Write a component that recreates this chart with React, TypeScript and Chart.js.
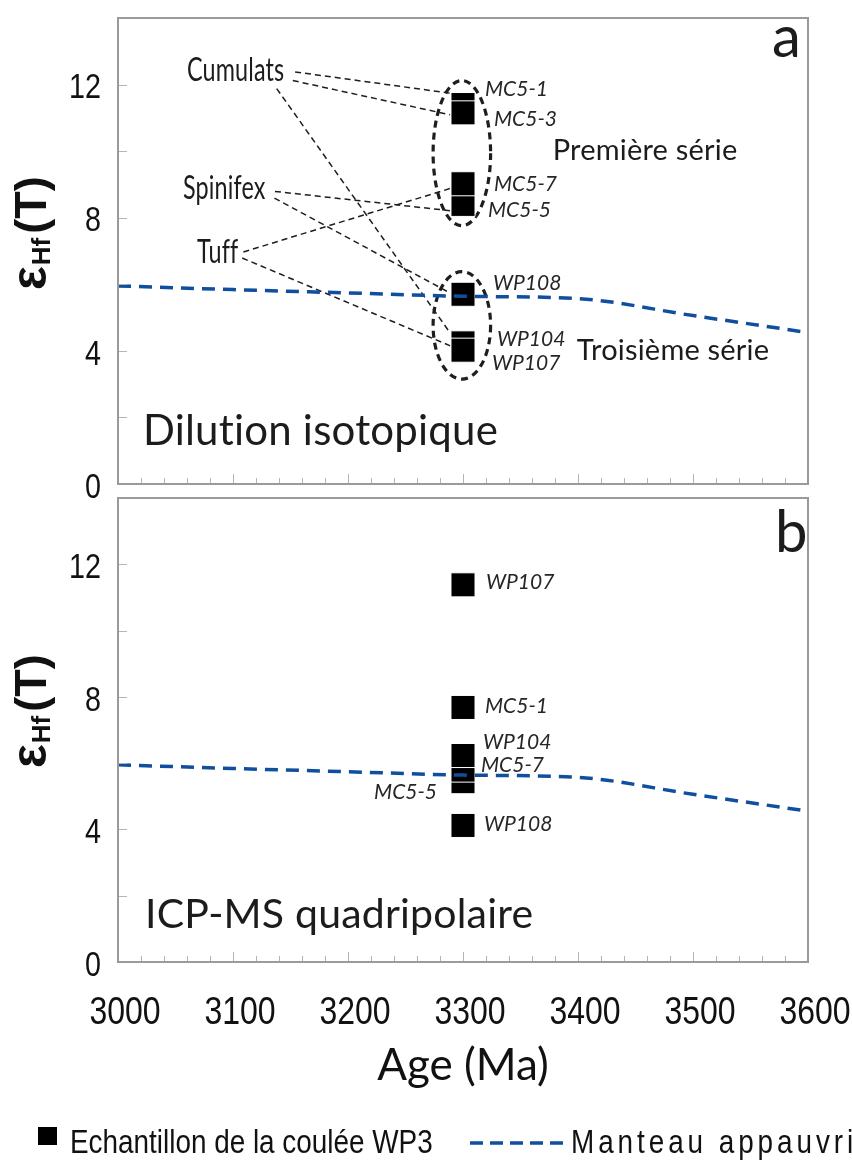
import React, { useEffect, useRef } from 'react';
import { Chart, registerables } from 'chart.js';

Chart.register(...registerables);

// ---------------- data ----------------
const ageMin = 3000;
const ageMax = 3600;
const ageTickLabels = [3000, 3100, 3200, 3300, 3400, 3500, 3600];
const epsMin = 0;
const epsMax = 14;
const epsTickLabels = [0, 4, 8, 12];

// depleted mantle evolution
const mantleAges = [3000, 3100, 3200, 3300, 3400, 3500, 3600];
const mantleEps = [5.95, 5.84, 5.74, 5.64, 5.57, 5.06, 4.55];

// WP3 flow samples (all at 3300 Ma), listed in drawing order
const sampleAge = 3300;
const samplesA = ['MC5-1', 'MC5-3', 'MC5-5', 'MC5-7', 'WP108', 'WP104', 'WP107'];
const epsA = [11.4, 11.15, 8.4, 9.02, 5.7, 4.24, 4.02];
const samplesB = ['WP107', 'MC5-1', 'MC5-5', 'MC5-7', 'WP104', 'WP108'];
const epsB = [11.38, 7.68, 5.44, 5.79, 6.23, 4.12];

// rock-type annotations of panel a
const rockTypes = ['Cumulats', 'Spinifex', 'Tuff'];
const rockAnchors = [
  [3060, 12.12],
  [3056.5, 8.56],
  [3068.7, 6.65],
];
// leader lines [age0, eps0, age1, eps1]
const leadersA = [
  [3154, 12.38, 3289, 11.74],
  [3152, 12.12, 3289, 11.09],
  [3138, 11.88, 3289, 4.53],
  [3136.5, 8.79, 3289, 8.21],
  [3136, 8.59, 3286, 5.79],
  [3109, 6.97, 3289, 8.88],
  [3108, 6.79, 3289, 4.15],
];
const seriesNames = ['Première série', 'Troisième série'];
const seriesAnchors = [
  [3378, 9.74],
  [3399, 3.74],
];
// ellipses [ageLeft, ageRight, epsLow, epsHigh]
const ellipsesA = [
  [3274, 3324, 7.76, 12.12],
  [3274, 3324, 3.15, 6.38],
];

// ---------------- styles ----------------
const BLUE = '#0f4f9e';
const INK = '#1c1c1c';
const FRAME = '#9a9a9a';
const HUMAN = "Lato, 'Noto Sans', sans-serif";
const ARIAL = "'Liberation Sans', Arial, sans-serif";
const NARROW_SX = 0.82;

// label offsets in px relative to the square centre: [dx, dy, align]
const labelOffsetsA: Record<string, [number, number, string]> = {
  'MC5-1': [22, -15, 'left'],
  'MC5-3': [31, 6, 'left'],
  'MC5-5': [25, 6, 'left'],
  'MC5-7': [31, 0, 'left'],
  WP108: [30, -11, 'left'],
  WP104: [34, -4, 'left'],
  WP107: [29, 13, 'left'],
};
const labelOffsetsB: Record<string, [number, number, string]> = {
  WP107: [23, -3, 'left'],
  'MC5-1': [22, -1, 'left'],
  'MC5-5': [-26, 11, 'right'],
  'MC5-7': [18, -5, 'left'],
  WP104: [20, -13, 'left'],
  WP108: [21, -1, 'left'],
};

function txt(ctx: CanvasRenderingContext2D, s: string, x: number, y: number, font: string, opts: any = {}) {
  ctx.save();
  ctx.font = font;
  ctx.fillStyle = opts.color || INK;
  ctx.textAlign = opts.align || 'left';
  ctx.textBaseline = opts.baseline || 'alphabetic';
  (ctx as any).letterSpacing = opts.spacing || '0px';
  ctx.translate(x, y);
  if (opts.sx) ctx.scale(opts.sx, 1);
  ctx.fillText(s, 0, 0);
  ctx.restore();
}

function drawFrame(chart: any, isTop: boolean) {
  const { ctx, chartArea: a, scales } = chart;
  const xs = scales.x;
  const ys = scales.y;
  ctx.save();
  ctx.strokeStyle = '#b4b4b4';
  ctx.lineWidth = 1;
  for (let v = ageMin + 20; v < ageMax; v += 20) {
    const px = Math.round(xs.getPixelForValue(v)) + 0.5;
    const len = v % 100 === 0 ? 10 : 6;
    ctx.beginPath();
    ctx.moveTo(px, a.bottom);
    ctx.lineTo(px, a.bottom - len);
    ctx.stroke();
  }
  for (let v = epsMin + 2; v < epsMax; v += 2) {
    const py = Math.round(ys.getPixelForValue(v)) + 0.5;
    ctx.beginPath();
    ctx.moveTo(a.left, py);
    ctx.lineTo(a.left + 9, py);
    ctx.stroke();
  }
  ctx.strokeStyle = FRAME;
  ctx.lineWidth = 2;
  ctx.strokeRect(a.left, a.top, a.right - a.left, a.bottom - a.top);
  ctx.restore();

  // tick labels, placed through the library scales (narrow face)
  ys.ticks.forEach((t: any) => {
    txt(ctx, String(t.value), a.left - 17, ys.getPixelForValue(t.value) + 4, `400 35px ${ARIAL}`, {
      align: 'right',
      baseline: 'middle',
      sx: NARROW_SX,
      color: '#111',
    });
  });
  if (!isTop) {
    xs.ticks.forEach((t: any) => {
      txt(ctx, String(t.value), xs.getPixelForValue(t.value) + 7, a.bottom + 51, `400 39px ${ARIAL}`, {
        align: 'center',
        baseline: 'middle',
        sx: NARROW_SX,
        color: '#111',
      });
    });
  }
}

function drawYTitle(ctx: CanvasRenderingContext2D, a: any) {
  ctx.save();
  ctx.translate(46, a.bottom - 194);
  ctx.rotate(-Math.PI / 2);
  ctx.fillStyle = '#111';
  ctx.textBaseline = 'alphabetic';
  ctx.textAlign = 'left';
  ctx.font = `700 50px ${ARIAL}`;
  ctx.fillText('ε', 0, 0);
  let x = ctx.measureText('ε').width + 1;
  ctx.font = `700 26px ${ARIAL}`;
  ctx.fillText('Hf', x, 4);
  x += ctx.measureText('Hf').width + 4;
  ctx.font = `700 45px ${ARIAL}`;
  ctx.fillText('(T)', x, 0);
  ctx.restore();
}

function makeConfig(panel: 'a' | 'b'): any {
  const isTop = panel === 'a';
  const names = isTop ? samplesA : samplesB;
  const vals = isTop ? epsA : epsB;
  const offsets = isTop ? labelOffsetsA : labelOffsetsB;

  const decor = {
    id: 'decor' + panel,
    beforeDatasetsDraw(chart: any) {
      if (!isTop) return;
      const { ctx, scales } = chart;
      const xs = scales.x;
      const ys = scales.y;
      ctx.save();
      ctx.strokeStyle = '#1e1e1e';
      ctx.lineWidth = 1.5;
      ctx.setLineDash([6, 4]);
      leadersA.forEach((l) => {
        ctx.beginPath();
        ctx.moveTo(xs.getPixelForValue(l[0]), ys.getPixelForValue(l[1]));
        ctx.lineTo(xs.getPixelForValue(l[2]), ys.getPixelForValue(l[3]));
        ctx.stroke();
      });
      ctx.lineWidth = 3.2;
      ctx.setLineDash([7, 5]);
      ellipsesA.forEach((e) => {
        const x0 = xs.getPixelForValue(e[0]);
        const x1 = xs.getPixelForValue(e[1]);
        const y0 = ys.getPixelForValue(e[3]);
        const y1 = ys.getPixelForValue(e[2]);
        ctx.beginPath();
        ctx.ellipse((x0 + x1) / 2, (y0 + y1) / 2, (x1 - x0) / 2, (y1 - y0) / 2, 0, 0, Math.PI * 2);
        ctx.stroke();
      });
      ctx.restore();
    },
    afterDatasetsDraw(chart: any) {
      const { ctx, chartArea: a, scales } = chart;
      const xs = scales.x;
      const ys = scales.y;
      drawFrame(chart, isTop);
      // point labels
      names.forEach((n, i) => {
        const o = offsets[n];
        const px = xs.getPixelForValue(sampleAge) + o[0];
        const py = ys.getPixelForValue(vals[i]) + o[1];
        txt(ctx, n, px, py, `italic 400 21px ${HUMAN}`, { align: o[2], baseline: 'middle', color: '#262626' });
      });
      if (isTop) {
        rockTypes.forEach((r, i) => {
          txt(ctx, r, xs.getPixelForValue(rockAnchors[i][0]), ys.getPixelForValue(rockAnchors[i][1]), `400 32px ${HUMAN}`, {
            sx: 0.73,
            spacing: '0.2px',
          });
        });
        seriesNames.forEach((s, i) => {
          txt(ctx, s, xs.getPixelForValue(seriesAnchors[i][0]), ys.getPixelForValue(seriesAnchors[i][1]), `400 29px ${HUMAN}`, {
            spacing: '0.2px',
          });
        });
        txt(ctx, 'a', a.right - 36, a.top + 39, `400 58px ${HUMAN}`);
        txt(ctx, 'Dilution isotopique', a.left + 25, a.bottom - 39, `400 42px ${HUMAN}`, { spacing: '0.2px' });
      } else {
        txt(ctx, 'b', a.right - 33, a.top + 54, `400 58px ${HUMAN}`);
        txt(ctx, 'ICP-MS quadripolaire', a.left + 27, a.bottom - 34, `400 41px ${HUMAN}`, { spacing: '0.2px' });
      }
      drawYTitle(ctx, a);
    },
    afterDraw(chart: any) {
      if (isTop) return;
      const { ctx } = chart;
      const ds = chart.data.datasets;
      const h = chart.height;
      ctx.save();
      ctx.fillStyle = '#000';
      ctx.fillRect(38, h - 39, 19, 18);
      ctx.strokeStyle = BLUE;
      ctx.lineWidth = 3.5;
      ctx.setLineDash([13, 7]);
      ctx.beginPath();
      ctx.moveTo(470, h - 23);
      ctx.lineTo(563, h - 23);
      ctx.stroke();
      ctx.restore();
      txt(ctx, ds[1].label, 70, h - 13, `400 34px ${ARIAL}`, { color: '#111', sx: NARROW_SX });
      txt(ctx, ds[0].label, 571, h - 13, `400 34px ${ARIAL}`, { color: '#111', sx: NARROW_SX, spacing: '4.8px' });
    },
  };

  return {
    type: 'scatter',
    data: {
      datasets: [
        {
          type: 'line',
          label: 'Manteau appauvri',
          data: mantleAges.map((x, i) => ({ x, y: mantleEps[i] })),
          borderColor: BLUE,
          borderWidth: 3.5,
          borderDash: [13, 8],
          pointRadius: 0,
          fill: false,
          cubicInterpolationMode: 'monotone',
          order: 0,
        },
        {
          type: 'scatter',
          label: 'Echantillon de la coulée WP3',
          data: vals.map((y) => ({ x: sampleAge, y })),
          pointStyle: 'rect',
          pointRadius: 17,
          pointHoverRadius: 17,
          backgroundColor: '#000',
          borderColor: '#fff',
          borderWidth: 1,
          order: 1,
        },
      ],
    },
    options: {
      animation: false,
      responsive: false,
      maintainAspectRatio: false,
      devicePixelRatio: 1,
      events: [],
      layout: { padding: isTop ? { left: 0, right: 44, top: 8, bottom: 36 } : { left: 0, right: 44, top: 4, bottom: 46 } },
      plugins: { legend: { display: false }, tooltip: { enabled: false } },
      scales: {
        x: {
          type: 'linear',
          min: ageMin,
          max: ageMax,
          display: !isTop,
          grid: { display: false, drawTicks: false },
          border: { display: false },
          afterBuildTicks: (s: any) => {
            s.ticks = ageTickLabels.map((v) => ({ value: v }));
          },
          afterFit: (s: any) => {
            s.height = isTop ? 0 : 158;
            s.paddingLeft = 0;
            s.paddingRight = 0;
            s.paddingTop = 0;
            s.paddingBottom = 0;
          },
          ticks: { display: false },
          title: {
            display: true,
            text: 'Age (Ma)',
            color: '#111',
            font: { family: HUMAN, size: 44, lineHeight: 1 },
            padding: { top: 0, bottom: 32 },
          },
        },
        y: {
          type: 'linear',
          min: epsMin,
          max: epsMax,
          grid: { display: false, drawTicks: false },
          border: { display: false },
          afterBuildTicks: (s: any) => {
            s.ticks = epsTickLabels.map((v) => ({ value: v }));
          },
          afterFit: (s: any) => {
            s.width = 118;
            s.paddingLeft = 0;
            s.paddingRight = 0;
            s.paddingTop = 0;
            s.paddingBottom = 0;
          },
          ticks: { display: false },
        },
      },
    },
    plugins: [decor],
  };
}

export default function App() {
  const topRef = useRef<HTMLCanvasElement>(null);
  const botRef = useRef<HTMLCanvasElement>(null);

  useEffect(() => {
    const c1 = new Chart(topRef.current as HTMLCanvasElement, makeConfig('a'));
    const c2 = new Chart(botRef.current as HTMLCanvasElement, makeConfig('b'));
    return () => {
      c1.destroy();
      c2.destroy();
    };
  }, []);

  return (
    <div style={{ position: 'absolute', left: 0, top: 0, width: 852, height: 1166, background: '#fff', overflow: 'hidden' }}>
      <canvas ref={topRef} width={852} height={520} style={{ position: 'absolute', left: 0, top: 0, width: 852, height: 520 }} />
      <canvas ref={botRef} width={852} height={686} style={{ position: 'absolute', left: 0, top: 480, width: 852, height: 686 }} />
    </div>
  );
}
